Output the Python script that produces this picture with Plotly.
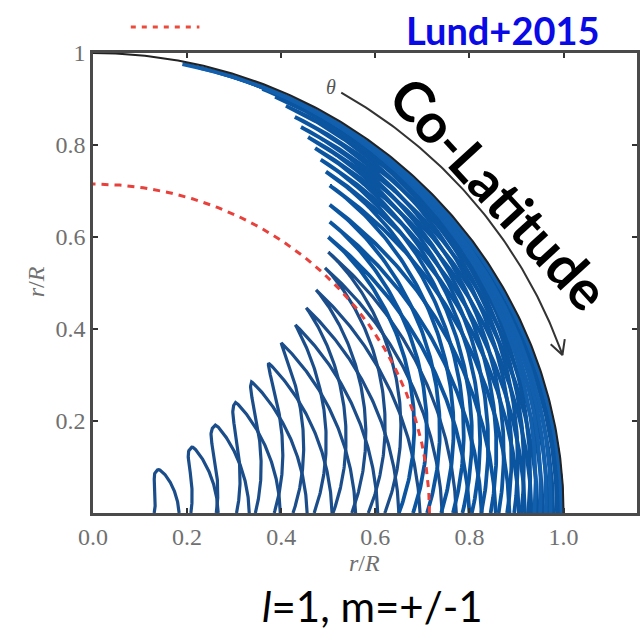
import numpy as np
import plotly.graph_objects as go

# ---- data (r/R units) ----
# tip (turning point) of each loop
tip_x = [0.137, 0.210, 0.260, 0.303, 0.337, 0.373, 0.400, 0.430, 0.453, 0.474,
         0.493, 0.500, 0.500, 0.503, 0.503, 0.503, 0.495, 0.484, 0.472, 0.457,
         0.442, 0.429, 0.410, 0.387, 0.360, 0.330, 0.296, 0.261, 0.225, 0.190]
tip_y = [0.0935, 0.143, 0.191, 0.240, 0.285, 0.326, 0.370, 0.409, 0.446, 0.485,
         0.533, 0.567, 0.600, 0.633, 0.670, 0.712, 0.742, 0.768, 0.793, 0.817,
         0.839, 0.861, 0.885, 0.905, 0.922, 0.937, 0.949, 0.959, 0.968, 0.976]
# where each loop's inner and outer branch meet the equator (y = 0)
foot_inner = [0.130, 0.208, 0.262, 0.305, 0.345, 0.385, 0.425, 0.470, 0.510, 0.550,
              0.585, 0.620, 0.650, 0.680, 0.710, 0.740, 0.765, 0.785, 0.805, 0.825,
              0.845, 0.862, 0.880, 0.895, 0.910, 0.925, 0.938, 0.950, 0.962, 0.972]
foot_outer = [0.183, 0.266, 0.332, 0.398, 0.455, 0.508, 0.558, 0.605, 0.650, 0.695,
              0.742, 0.772, 0.800, 0.826, 0.856, 0.885, 0.905, 0.918, 0.932, 0.945,
              0.956, 0.967, 0.978, 0.986, 0.991, 0.994, 0.996, 0.997, 0.997, 0.997]
surface_radius = 1.0
dashed_radius = 0.715
arrow_radius = 1.055
arrow_start_deg = 60.0   # angle from equator
arrow_end_deg = 19.0

x_ticks = [0.0, 0.2, 0.4, 0.6, 0.8, 1.0]
x_ticktext = ["0.0", "0.2", "0.4", "0.6", "0.8", "1.0"]
y_ticks = [0.2, 0.4, 0.6, 0.8, 1.0]
y_ticktext = ["0.2", "0.4", "0.6", "0.8", "1"]

# ---- layout geometry ----
W, H = 644, 631
ML, MR, MT, MB = 93, 4, 53, 118
XMAX = 1.156
pw, ph = W - ML - MR, H - MT - MB
sx, sy = pw / XMAX, ph / 1.0

fig = go.Figure()

def loop_xy(k):
    rt = np.hypot(tip_x[k], tip_y[k])
    pt = np.arctan2(tip_y[k], tip_x[k])
    p = 0.4 if k < 3 else min(1.6, 0.4 + 0.12 * (k - 2))
    phi = np.linspace(0, pt, 110)
    s = (1 - phi / pt) ** p
    ro = rt + (foot_outer[k] - rt) * s
    ri = rt - (rt - foot_inner[k]) * s
    r = np.concatenate([ro, ri[::-1]])
    ph_ = np.concatenate([phi, phi[::-1]])
    return r * np.cos(ph_), r * np.sin(ph_)

# (colour, width) style per group of loops
styles = [("#1b4d8a", 3.2, range(0, 12)),
          ("#0b55a0", 3.8, range(12, 26)),
          ("#125fae", 3.8, range(26, len(tip_x)))]
for col, wid, ks in styles:
    xs, ys = [], []
    for k in ks:
        lx, ly = loop_xy(k)
        xs += list(lx) + [None]
        ys += list(ly) + [None]
    fig.add_trace(go.Scatter(x=xs, y=ys, mode="lines",
                             line=dict(color=col, width=wid),
                             hoverinfo="skip", showlegend=False))

# red dashed circle
a = np.linspace(0, np.pi / 2, 200)
fig.add_trace(go.Scatter(x=dashed_radius * np.cos(a), y=dashed_radius * np.sin(a),
                         mode="lines", line=dict(color="#e8413c", width=3, dash="7px,6px"),
                         hoverinfo="skip", showlegend=False))
# surface
fig.add_trace(go.Scatter(x=surface_radius * np.cos(a), y=surface_radius * np.sin(a),
                         mode="lines", line=dict(color="#222222", width=2),
                         hoverinfo="skip", showlegend=False))
# co-latitude arrow arc
b = np.radians(np.linspace(arrow_start_deg, arrow_end_deg, 100))
fig.add_trace(go.Scatter(x=arrow_radius * np.cos(b), y=arrow_radius * np.sin(b),
                         mode="lines", line=dict(color="#333333", width=2),
                         hoverinfo="skip", showlegend=False))
# arrow head (open chevron)
pe = np.radians(arrow_end_deg)
xe, ye = arrow_radius * np.cos(pe), arrow_radius * np.sin(pe)
dpx = np.array([np.sin(pe) * sx, -np.cos(pe) * sy])
dpx /= np.hypot(*dpx)
back = -dpx
pts_x, pts_y = [], []
for sgn in (1, -1):
    ang = np.radians(28) * sgn
    rx = back[0] * np.cos(ang) - back[1] * np.sin(ang)
    ry = back[0] * np.sin(ang) + back[1] * np.cos(ang)
    pts_x.append(xe + 16 * rx / sx)
    pts_y.append(ye + 16 * ry / sy)
fig.add_trace(go.Scatter(x=[pts_x[0], xe, pts_x[1]], y=[pts_y[0], ye, pts_y[1]],
                         mode="lines", line=dict(color="#333333", width=2),
                         hoverinfo="skip", showlegend=False))

def px2paper(px, py):
    return (px - ML) / pw, (H - MB - py) / ph

# legend red dashes at the top
x0, y0 = px2paper(131, 27)
x1, _ = px2paper(200, 27)
fig.add_shape(type="line", xref="paper", yref="paper", x0=x0, x1=x1, y0=y0, y1=y0,
              line=dict(color="#ee4a3a", width=3, dash="5px,6px"))

serif = "Liberation Serif, DejaVu Serif, serif"
ann = []
def add_text(text, px, py, size, color, family, angle=0):
    x, y = px2paper(px, py)
    ann.append(dict(text=text, x=x, y=y, xref="paper", yref="paper",
                    xanchor="center", yanchor="middle", showarrow=False,
                    textangle=angle, font=dict(family=family, size=size, color=color)))

add_text("<b>Lund+2015</b>", 505, 30, 38, "#0a0ae6", "Lato")
add_text("<b>Co-Latitude</b>", 502, 193, 55, "#000000", "Lato", angle=47.5)
add_text("<i>θ</i>", 332, 87, 20, "#555555", serif)
add_text("<i>l</i>=1, m=+/-1", 374, 606, 42, "#000000", "Lato")
add_text("<i>r</i>/<i>R</i>", 366, 563, 24, "#707070", serif)
add_text("<i>r</i>/<i>R</i>", 36, 282, 24, "#707070", serif, angle=-90)

fig.update_layout(
    width=W, height=H, autosize=False,
    margin=dict(l=ML, r=MR, t=MT, b=MB, pad=0),
    paper_bgcolor="white", plot_bgcolor="white",
    annotations=ann, showlegend=False,
    xaxis=dict(range=[0, XMAX], tickvals=x_ticks, ticktext=x_ticktext,
               showgrid=False, zeroline=False, showline=True, mirror="ticks",
               linecolor="#4a4a4a", linewidth=2.5, ticks="inside", ticklen=5,
               tickwidth=2, tickcolor="#333333",
               tickfont=dict(family=serif, size=24, color="#707070")),
    yaxis=dict(range=[0, 1.0], tickvals=y_ticks, ticktext=y_ticktext,
               showgrid=False, zeroline=False, showline=True, mirror="ticks",
               linecolor="#4a4a4a", linewidth=2.5, ticks="inside", ticklen=5,
               tickwidth=2, tickcolor="#333333",
               tickfont=dict(family=serif, size=24, color="#707070")),
)

fig.write_html("out.html")
